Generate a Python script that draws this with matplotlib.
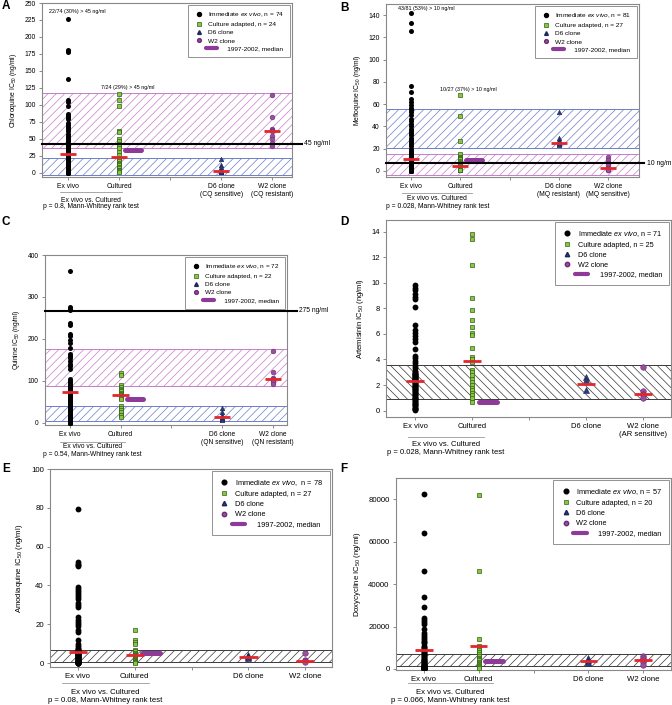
import matplotlib
matplotlib.use('Agg')
import matplotlib.pyplot as plt
from matplotlib.lines import Line2D
from matplotlib.legend_handler import HandlerBase
import numpy as np

plt.rcParams['font.family'] = ['Liberation Sans', 'DejaVu Sans']
plt.rcParams['mathtext.fontset'] = 'custom'
plt.rcParams['mathtext.rm'] = 'Liberation Sans'
plt.rcParams['mathtext.it'] = 'Liberation Sans:italic'
plt.rcParams['hatch.linewidth'] = 0.5

# category positions on every panel (3rd slot is an empty tick)
positions = [1, 2, 3, 4, 5]

# A - chloroquine
cq_exvivo = [227, 181, 180, 178, 138, 108, 104, 99, 86, 84, 82, 80, 74, 71, 68, 65, 62, 58, 55, 52, 49, 47,
             44, 43, 42, 41, 40, 39, 38, 37, 36, 35, 34, 33, 32, 31, 30,
             28, 27, 26, 25, 24, 23, 22, 21, 20, 19, 18, 17, 16, 15, 14, 13, 12, 11, 10, 9, 8, 7, 6, 5,
             4.5, 4, 3.5, 3, 2.5, 2, 1.5, 1, 0.8, 0.5, 0.3, 0.2, 0.1]
cq_cultured = [116, 107, 98, 62, 60, 50, 47, 42, 40, 36, 31, 26, 22, 20, 18, 15, 13, 11, 9, 7, 5, 4, 3, 2]
cq_d6 = [20, 12, 8, 5, 3, 3, 2, 2, 1.5]
cq_w2 = [114, 83, 65, 63, 62, 55, 50, 44, 40]
cq_medians = [28, 24, 3.5, 62]
cq_hist = 33

# B - mefloquine
mq_exvivo = [142, 133, 126, 76, 71, 65, 62, 59, 57, 55, 53, 50, 47, 45, 42, 40, 38, 36, 34, 32,
             30, 28, 26, 24, 22, 20, 18, 17, 16, 15, 14, 13, 12.5, 12, 11.5, 11, 10.8, 10.6, 10.5,
             10.4, 10.3, 10.2, 10.1,
             10, 9.5, 9, 8.5, 8, 7.5, 7, 6.5, 6, 5.5, 5, 4.5, 4, 3.8, 3.5, 3.2, 3, 2.8, 2.5, 2.2,
             2, 1.8, 1.5, 1.3, 1, 0.9, 0.8, 0.7, 0.6, 0.5, 0.4, 0.3, 0.3, 0.2, 0.2, 0.1, 0.1, 0.05]
mq_cultured = [68, 49, 27, 15, 13, 12.5, 12, 11.5, 11, 10.5, 9, 8, 7, 6, 5, 4.5, 4, 3.5, 3, 2.5,
               2, 1.8, 1.5, 1.2, 1, 0.8, 0.5]
mq_d6 = [53, 30, 28, 26, 25, 24, 23]
mq_w2 = [13, 10, 7, 5, 3, 2, 1, 0.5]
mq_medians = [11, 4.5, 25, 2.5]
mq_hist = 10

# C - quinine
qn_exvivo = [363, 276, 272, 268, 238, 234, 212, 208, 198, 190, 178, 165, 160, 155, 148, 140, 135, 128,
             105, 100, 97, 93, 90, 87, 85, 82, 80, 77, 75, 73, 71, 69, 67, 65, 62, 60, 58, 55, 52, 50,
             48, 45, 42, 40, 38, 35, 32, 30, 28, 25, 22, 20, 18, 15, 13, 11, 9, 8, 7, 6, 5, 4, 3, 2.5,
             2, 1.5, 1, 0.8, 0.5, 0.3, 0.2, 0.1]
qn_cultured = [120, 115, 90, 85, 80, 78, 75, 72, 70, 68, 66, 65, 62, 60, 58, 40, 35, 30, 25, 20, 18, 15]
qn_d6 = [35, 25, 20, 15, 12, 10, 10, 8]
qn_w2 = [172, 122, 108, 105, 102, 98, 92]
qn_medians = [73, 67, 14, 105]
qn_hist = 57

# D - artemisinin
ar_exvivo = [9.8, 9.6, 9.4, 9.1, 8.9, 8.7, 8.1, 6.7, 6.3, 6.1, 5.8, 5.6, 5.4, 4.8, 4.3, 4.1, 3.9, 3.7,
             3.5, 3.3, 3.1, 3.0, 2.95, 2.9, 2.85, 2.8, 2.75, 2.7, 2.65, 2.6, 2.55, 2.5, 2.45, 2.4, 2.38,
             2.35, 2.3, 2.25, 2.2, 2.15, 2.1, 2.0, 1.95, 1.9, 1.85, 1.8, 1.7, 1.65, 1.6, 1.5, 1.45,
             1.4, 1.3, 1.25, 1.2, 1.1, 1.0, 0.95, 0.9, 0.8, 0.75, 0.7, 0.6, 0.5, 0.45, 0.4, 0.3, 0.2,
             0.15, 0.1, 0.05]
ar_cultured = [13.8, 13.4, 11.4, 8.8, 7.9, 7.1, 6.5, 6.1, 5.9, 4.9, 4.2, 4.0, 3.8, 3.2, 3.0, 2.8, 2.5,
               2.2, 2.0, 1.8, 1.6, 1.4, 1.2, 1.0, 0.7]
ar_d6 = [2.6, 2.4, 1.6]
ar_w2 = [3.4, 1.5, 1.3, 1.2, 1.0]
ar_medians = [2.35, 3.9, 2.1, 1.3]
ar_hist = 0.7

# E - amodiaquine
aq_exvivo = [79.5, 52, 51, 50.5, 50, 39, 38, 37, 36, 35, 34, 33, 31, 30, 29, 24, 22, 21, 20, 19,
             17, 16, 12, 10, 9, 8, 7.5, 7, 6.8, 6.5, 6.2, 6, 5.9, 5.8, 5.7, 5.6, 5.55, 5.5, 5.45,
             5.4, 5.3, 5.2, 5.1, 5.0, 4.8, 4.6, 4.4, 4.2, 4.0, 3.8, 3.6, 3.4, 3.2, 3.0, 2.8, 2.6,
             2.4, 2.2, 2.0, 1.8, 1.6, 1.4, 1.2, 1.0, 0.9, 0.8, 0.7, 0.6, 0.5, 0.45, 0.4, 0.35, 0.3,
             0.25, 0.2, 0.15, 0.1, 0.05]
aq_cultured = [17, 12, 11, 10, 7, 6.5, 5, 4.5, 4.2, 4, 3.8, 3.6, 3.5, 3.4, 3.2, 3, 2.8, 2.5, 2.2, 2,
               1.8, 1.5, 1.2, 1, 0.8, 0.5, 0.3]
aq_d6 = [4.2, 3.5, 3.0, 2.8]
aq_w2 = [5.2, 1.5, 1.0, 0.8]
aq_medians = [5.5, 4.0, 3.3, 1.3]
aq_hist = 5.3

# F - doxycycline
dx_exvivo = [82500, 64000, 46000, 34000, 29000, 24000, 23000, 22000, 21000, 19000, 17000, 16000,
             15000, 14000, 13000, 12500, 12000, 11000, 10500, 10000, 9500, 9000, 8500, 8000, 7500,
             7000, 6500, 6000, 5500, 5000, 4700, 4400, 4000, 3700, 3400, 3100, 2800, 2500, 2200,
             2000, 1800, 1600, 1400, 1200, 1000, 900, 800, 700, 600, 500, 400, 300, 250, 200, 150,
             100, 50]
dx_cultured = [82000, 46000, 14000, 11000, 10500, 10000, 9000, 8000, 7000, 6000, 5000, 4500, 4000,
               3500, 3000, 2500, 2000, 1500, 1000, 500]
dx_d6 = [5000, 4000, 3500, 3000]
dx_w2 = [6000, 5000, 4000, 3500, 2000]
dx_medians = [9000, 10800, 3700, 4200]
dx_hist = 3900

RED = '#e3262b'
PURPLE = '#8e3a98'
PINK = '#c47ec8'
BLUE = '#6d7fc9'
GRAYBAND = '#3a3a3a'


class MedianHandler(HandlerBase):
    # purple bar that sits further right than the marker column
    def create_artists(self, legend, orig_handle, xdescent, ydescent, width, height, fontsize, trans):
        y = height / 2 - ydescent
        ln = Line2D([width * 1.2 - xdescent, width * 2.4 - xdescent], [y, y],
                    color=orig_handle.get_color(), lw=orig_handle.get_linewidth(),
                    solid_capstyle='round')
        ln.set_transform(trans)
        return [ln]


fig = plt.figure(figsize=(6.72, 7.05), dpi=100)


def px_rect(l, t, r, b):
    return [l / 672, 1 - b / 705, (r - l) / 672, (b - t) / 705]


def draw_panel(rect, groups, medians, hist, ylim, yticks, xlim, ylabel, xlabels, ns, bands, fs,
               ms, pval, line_x, offs, threshold=None, notes=(), yfmt=None):
    ax = fig.add_axes(rect)
    hpx = rect[3] * 705
    ex, cu, d6, w2 = groups
    for lo, hi, col, hatch in bands:
        ax.axhspan(lo, hi, facecolor='none', edgecolor=col, hatch=hatch, lw=0.7, zorder=1)
    ax.plot([positions[0]] * len(ex), ex, 'o', color='black', ms=ms, mew=0, zorder=3)
    ax.plot([positions[1]] * len(cu), cu, 's', mfc='#8cc63f', mec='#2f5f1c', ms=ms * 0.85, mew=0.5, zorder=3)
    ax.plot([positions[3]] * len(d6), d6, '^', mfc='#2d3d7c', mec='#1b2656', ms=ms * 0.9, mew=0.4, zorder=3)
    ax.plot([positions[4]] * len(w2), w2, 'o', mfc='#9a4f9e', mec='#6b2a72', ms=ms * 0.95, mew=0.4, zorder=3)
    for p, m in zip([positions[0], positions[1], positions[3], positions[4]], medians):
        ax.plot([p - 0.16, p + 0.16], [m, m], color=RED, lw=2.0, zorder=5, solid_capstyle='butt')
    ax.plot([2.12, 2.44], [hist, hist], color=PURPLE, lw=3.6, solid_capstyle='round', zorder=4)
    if threshold is not None:
        yv, lab, xend = threshold
        ax.plot([0, xend], [yv, yv], color='black', lw=1.5, transform=ax.get_yaxis_transform(),
                clip_on=False, zorder=4)
        ax.text(xend + 0.01, yv, lab, transform=ax.get_yaxis_transform(), va='center', ha='left',
                fontsize=fs)
    for x, y, s in notes:
        ax.text(x, y, s, fontsize=fs * 0.8, ha='left', va='center')
    ax.set_ylim(*ylim)
    ax.set_xlim(*xlim)
    ax.set_yticks(yticks)
    if yfmt:
        ax.set_yticklabels([yfmt(v) for v in yticks])
    ax.set_xticks(positions, xlabels)
    ax.tick_params(labelsize=fs, length=2.5, width=0.6, color='#777777', pad=2)
    ax.set_ylabel(ylabel, fontsize=fs)
    for s in ax.spines.values():
        s.set_color('#888888')
        s.set_linewidth(0.8)
    # comparison bracket below the axis
    ax.plot(line_x, [-offs[0] / hpx] * 2, color='#999999', lw=0.6, transform=ax.get_xaxis_transform(),
            clip_on=False)
    xc = sum(line_x) / 2
    ax.text(xc, -offs[1] / hpx, 'Ex vivo vs. Cultured', transform=ax.get_xaxis_transform(),
            ha='center', va='center', fontsize=fs)
    ax.text(xc, -offs[2] / hpx, 'p = %s, Mann-Whitney rank test' % pval,
            transform=ax.get_xaxis_transform(), ha='center', va='center', fontsize=fs)
    handles = [Line2D([], [], ls='none', marker='o', color='black', ms=ms * 0.8),
               Line2D([], [], ls='none', marker='s', mfc='#8cc63f', mec='#2f5f1c', ms=ms * 0.7, mew=0.5),
               Line2D([], [], ls='none', marker='^', mfc='#2d3d7c', mec='#1b2656', ms=ms * 0.75),
               Line2D([], [], ls='none', marker='o', mfc='#9a4f9e', mec='#6b2a72', ms=ms * 0.75),
               Line2D([], [], color=PURPLE, lw=3)]
    labels = [ns[0], ns[1], 'D6 clone', 'W2 clone', '           1997-2002, median']
    leg = ax.legend(handles, labels, loc='upper right', fontsize=fs * 0.95, frameon=True,
                    fancybox=False, edgecolor='#777777', handlelength=1.5, handletextpad=0.7,
                    labelspacing=0.4, borderpad=0.9, borderaxespad=0.3,
                    handler_map={handles[4]: MedianHandler()})
    leg.get_frame().set_linewidth(0.7)
    leg.set_zorder(6)
    return ax


# A
draw_panel(px_rect(42, 3, 292, 177), [cq_exvivo, cq_cultured, cq_d6, cq_w2], cq_medians, cq_hist,
           (-6, 250), list(range(0, 251, 25)), (0.49, 5.39), 'Chloroquine IC$_{50}$ (ng/ml)',
           ['Ex vivo', 'Cultured', '', 'D6 clone\n(CQ sensitive)', 'W2 clone\n(CQ resistant)'],
           [r'Immediate $\mathit{ex\ vivo}$, n = 74', 'Culture adapted, n = 24'],
           [(36, 118, PINK, '////'), (-3, 22, BLUE, '////')], 4.9, 3.6, '0.8', (0.84, 2.06),
           (15, 23, 30), threshold=(43, '45 ng/ml', 1.04),
           notes=[(0.62, 237, '22/74 (30%) > 45 ng/ml'), (1.64, 125, '7/24 (29%) > 45 ng/ml')])

# B
draw_panel(px_rect(386, 4, 639, 177), [mq_exvivo, mq_cultured, mq_d6, mq_w2], mq_medians, mq_hist,
           (-5.4, 150), list(range(0, 141, 20)), (0.49, 5.63), 'Mefloquine IC$_{50}$ (ng/ml)',
           ['Ex vivo', 'Cultured', '', 'D6 clone\n(MQ resistant)', 'W2 clone\n(MQ sensitive)'],
           [r'Immediate $\mathit{ex\ vivo}$, n = 81', 'Culture adapted, n = 27'],
           [(21, 55.7, BLUE, '////'), (-3.6, 15, PINK, '////')], 4.9, 3.6, '0.028', (0.82, 2.24),
           (16, 22, 30), threshold=(7, '10 ng/ml', 1.02),
           notes=[(0.74, 146, '43/81 (53%) > 10 ng/ml'), (1.58, 73.6, '10/27 (37%) > 10 ng/ml')])

# C
draw_panel(px_rect(45, 255, 287, 425), [qn_exvivo, qn_cultured, qn_d6, qn_w2], qn_medians, qn_hist,
           (-5, 400), list(range(0, 401, 100)), (0.51, 5.28), 'Quinine IC$_{50}$ (ng/ml)',
           ['Ex vivo', 'Cultured', '', 'D6 clone\n(QN sensitive)', 'W2 clone\n(QN resistant)'],
           [r'Immediate $\mathit{ex\ vivo}$, n = 72', 'Culture adapted, n = 22'],
           [(89, 177, PINK, '////'), (5.5, 41, BLUE, '////')], 4.8, 3.6, '0.54', (0.8, 2.08),
           (17, 22, 29), threshold=(267, '275 ng/ml', 1.04))

# D
draw_panel(px_rect(386, 220, 671, 417), [ar_exvivo, ar_cultured, ar_d6, ar_w2], ar_medians, ar_hist,
           (-0.5, 14.9), list(range(0, 15, 2)), (0.49, 5.49), 'Artemisinin IC$_{50}$ (ng/ml)',
           ['Ex vivo', 'Cultured', '', 'D6 clone', 'W2 clone\n(AR sensitive)'],
           [r'Immediate $\mathit{ex\ vivo}$, n = 71', 'Culture adapted, n = 25'],
           [(0.91, 3.55, GRAYBAND, '\\\\\\\\')], 5.5, 4.2, '0.028', (0.88, 2.21), (20, 27, 36))

# E
draw_panel(px_rect(50, 469, 332, 667), [aq_exvivo, aq_cultured, aq_d6, aq_w2], aq_medians, aq_hist,
           (-2, 100), list(range(0, 101, 20)), (0.51, 5.47), 'Amodiaquine IC$_{50}$ (ng/ml)',
           ['Ex vivo', 'Cultured', '', 'D6 clone', 'W2 clone'],
           [r'Immediate $\mathit{ex\ vivo}$,  n = 78', 'Culture adapted, n = 27'],
           [(0.4, 7, GRAYBAND, '////')], 5.6, 4.2, '0.08', (0.72, 2.25), (16, 25, 33))

# F
draw_panel(px_rect(396, 478, 671, 670), [dx_exvivo, dx_cultured, dx_d6, dx_w2], dx_medians, dx_hist,
           (-500, 90000), list(range(0, 80001, 20000)), (0.49, 5.51), 'Doxycycline IC$_{50}$ (ng/ml)',
           ['Ex vivo', 'Cultured', '', 'D6 clone', 'W2 clone'],
           [r'Immediate $\mathit{ex\ vivo}$, n = 57', 'Culture adapted, n = 20'],
           [(1400, 7200, GRAYBAND, '////')], 5.6, 4.2, '0.066', (0.71, 2.26), (13, 22, 30),
           yfmt=lambda v: '%d' % v)

for lab, x, y in [('A', 2, 6), ('B', 340, 8), ('C', 2, 222), ('D', 340, 222), ('E', 2, 469), ('F', 340, 469)]:
    fig.text(x / 672, 1 - y / 705, lab, fontsize=8.5, fontweight='bold', va='center', ha='left')

fig.savefig('out.png', dpi=100)
